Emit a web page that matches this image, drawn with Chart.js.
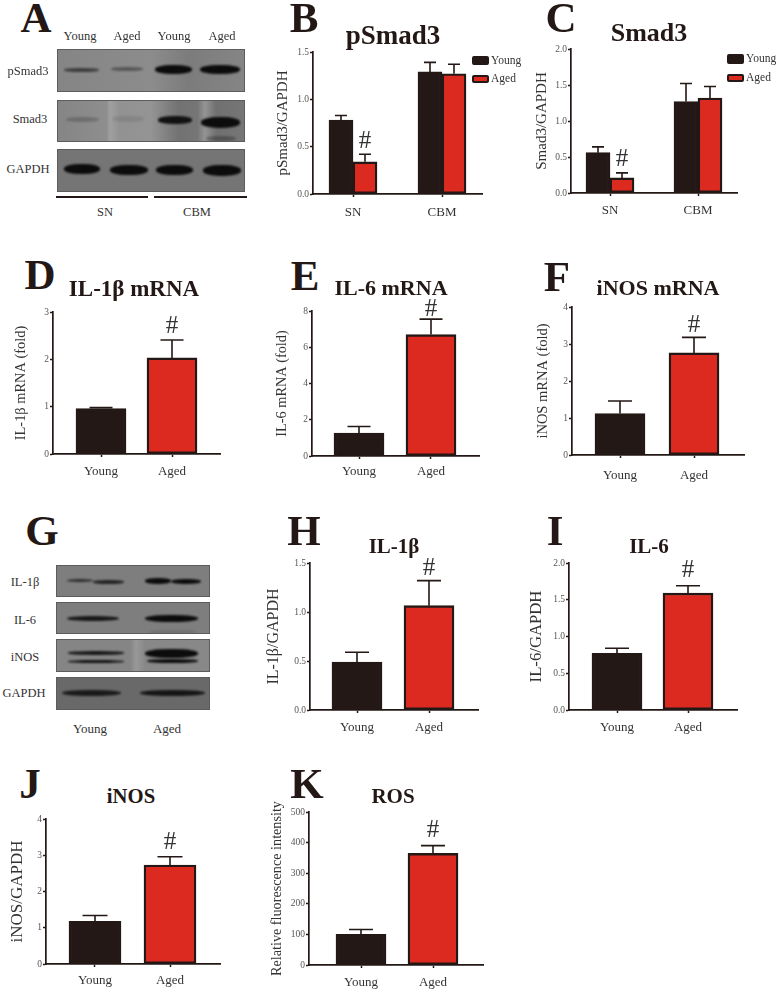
<!DOCTYPE html>
<html>
<head>
<meta charset="utf-8">
<title>Panels A-K</title>
<script src="https://cdn.jsdelivr.net/npm/chart.js@4"></script>
<style>
    html, body { margin: 0; padding: 0; background: #fff; }
    #page { position: relative; width: 778px; height: 991px; overflow: hidden; font-family: "Liberation Serif", serif; color: #231815; }
    #page canvas { position: absolute; }
    .txt { position: absolute; white-space: nowrap; transform: translate(-50%, -50%); line-height: 1; }
    .row { position: absolute; box-sizing: border-box; border: 1px solid #5c5c5c; overflow: hidden; }
    .band { position: absolute; background: #0c0c0c; border-radius: 45%; filter: blur(1.2px); }
    .rule { position: absolute; height: 2px; background: #231815; }
    .swatch { position: absolute; box-sizing: border-box; border: 2px solid #231815; border-radius: 2px; }
</style>
</head>
<body>
<div id="page"></div>
<script>
// values
var groupLabels = ['SN', 'CBM'];
var pairLabels = ['Young', 'Aged'];

var bYoung = [0.78, 1.29];
var bYoungErr = [0.83, 1.39];
var bAged = [0.34, 1.27];
var bAgedErr = [0.42, 1.37];
var bTicks = ['0.0', '0.5', '1.0', '1.5'];

var cYoung = [0.56, 1.27];
var cYoungErr = [0.64, 1.52];
var cAged = [0.21, 1.32];
var cAgedErr = [0.28, 1.48];
var cTicks = ['0.0', '0.5', '1.0', '1.5', '2.0'];

var dValues = [0.96, 2.03];
var dErr = [0.98, 2.41];
var dTicks = ['0', '1', '2', '3'];

var eValues = [1.27, 6.7];
var eErr = [1.63, 7.55];
var eTicks = ['0', '2', '4', '6', '8'];

var fValues = [1.12, 2.76];
var fErr = [1.46, 3.18];
var fTicks = ['0', '1', '2', '3', '4'];

var hValues = [0.49, 1.065];
var hErr = [0.59, 1.32];
var hTicks = ['0.0', '0.5', '1.0', '1.5'];

var iValues = [0.77, 1.59];
var iErr = [0.84, 1.69];
var iTicks = ['0.0', '0.5', '1.0', '1.5', '2.0'];

var jValues = [1.18, 2.73];
var jErr = [1.34, 2.96];
var jTicks = ['0', '1', '2', '3', '4'];

var kValues = [100, 365];
var kErr = [116, 390];
var kTicks = ['0', '100', '200', '300', '400', '500'];

var DARK = '#231815';
var RED = '#dc2a20';
var SERIF = '"Liberation Serif", serif';
var page = document.getElementById('page');

function addText(text, x, y, size, bold, color) {
    var el = document.createElement('div');
    el.className = 'txt';
    el.textContent = text;
    el.style.left = x + 'px';
    el.style.top = y + 'px';
    el.style.fontSize = size + 'px';
    if (bold) el.style.fontWeight = 'bold';
    if (color) el.style.color = color;
    page.appendChild(el);
}

// error caps and the # mark, placed through the chart scales
var errorBarPlugin = {
    id: 'errorBars',
    afterDatasetsDraw: function(chart, args, opts) {
        var ctx = chart.ctx;
        var yScale = chart.scales.y;
        ctx.save();
        ctx.strokeStyle = DARK;
        ctx.lineWidth = 1.6;
        opts.tops.forEach(function(tops, d) {
            var bars = chart.getDatasetMeta(d).data;
            tops.forEach(function(top, i) {
                var x = bars[i].x;
                var yTop = yScale.getPixelForValue(top);
                ctx.beginPath();
                ctx.moveTo(x, bars[i].y);
                ctx.lineTo(x, yTop);
                ctx.moveTo(x - opts.capW / 2, yTop);
                ctx.lineTo(x + opts.capW / 2, yTop);
                ctx.stroke();
            });
        });
        var bar = chart.getDatasetMeta(opts.hash[0]).data[opts.hash[1]];
        ctx.fillStyle = '#333';
        ctx.font = '25px ' + SERIF;
        ctx.textAlign = 'center';
        ctx.textBaseline = 'middle';
        ctx.fillText('#', bar.x, yScale.getPixelForValue(opts.tops[opts.hash[0]][opts.hash[1]]) - opts.hashDy);
        ctx.restore();
    }
};

function barPanel(p) {
    var padTop = 12, padRight = 6, xHeight = 34;
    var yWidth = p.axisX - p.titleX + 10;
    var canvas = document.createElement('canvas');
    canvas.width = yWidth + (p.right - p.axisX) + padRight;
    canvas.height = padTop + (p.y0 - p.yTop) + xHeight;
    canvas.style.left = (p.titleX - 10) + 'px';
    canvas.style.top = (p.yTop - padTop) + 'px';
    page.appendChild(canvas);

    var spacing = p.tick2 - p.tick1;
    var yValues = p.yTicks.map(parseFloat);

    new Chart(canvas.getContext('2d'), {
        type: 'bar',
        data: {
            datasets: p.series.map(function(s) {
                return {
                    label: s.label,
                    data: s.values.map(function(v, i) { return { x: i, y: v }; }),
                    backgroundColor: s.colors,
                    borderColor: DARK,
                    borderWidth: 2.4,
                    borderSkipped: false,
                    barThickness: p.barW
                };
            })
        },
        options: {
            responsive: false,
            animation: false,
            layout: { padding: { top: padTop, right: padRight, left: 0, bottom: 0 } },
            plugins: {
                legend: { display: false },
                title: { display: false },
                tooltip: { enabled: false },
                errorBars: {
                    tops: p.series.map(function(s) { return s.err; }),
                    capW: p.capW,
                    hash: p.hash,
                    hashDy: p.hashDy
                }
            },
            scales: {
                x: {
                    type: 'linear',
                    bounds: 'data',
                    offset: false,
                    z: 1,
                    min: (p.axisX - p.tick1) / spacing,
                    max: (p.right - p.tick1) / spacing,
                    afterBuildTicks: function(scale) {
                        scale.ticks = p.labels.map(function(l, i) { return { value: i }; });
                    },
                    afterFit: function(scale) { scale.height = xHeight; },
                    border: { color: DARK, width: 1.7 },
                    grid: { offset: false, drawOnChartArea: false, tickLength: 3, tickColor: DARK, tickWidth: 1.5 },
                    ticks: {
                        autoSkip: false,
                        maxRotation: 0,
                        padding: p.xGap,
                        color: '#333',
                        font: { family: SERIF, size: p.xSize || 13 },
                        callback: function(v) { return p.labels[v]; }
                    }
                },
                y: {
                    type: 'linear',
                    bounds: 'data',
                    z: 1,
                    min: 0,
                    max: yValues[yValues.length - 1],
                    afterBuildTicks: function(scale) {
                        scale.ticks = yValues.map(function(v) { return { value: v }; });
                    },
                    afterFit: function(scale) { scale.width = yWidth; },
                    border: { color: DARK, width: 1.7 },
                    grid: { drawOnChartArea: false, tickLength: 3, tickColor: DARK, tickWidth: 1.3 },
                    ticks: {
                        padding: 1,
                        color: '#555',
                        font: { family: SERIF, size: 9.5 },
                        callback: function(v) { return p.yTicks[yValues.indexOf(v)]; }
                    },
                    title: {
                        display: true,
                        text: p.yTitle,
                        color: '#333',
                        padding: 0,
                        font: { family: SERIF, size: p.yTitleSize, lineHeight: '20px' }
                    }
                }
            }
        },
        plugins: [errorBarPlugin]
    });
}

function pair(values, err) {
    return [{ label: 'Mean', values: values, err: err, colors: [DARK, RED] }];
}

function group(young, youngErr, aged, agedErr) {
    return [
        { label: 'Young', values: young, err: youngErr, colors: DARK },
        { label: 'Aged', values: aged, err: agedErr, colors: RED }
    ];
}

barPanel({ axisX: 313, y0: 194, yTop: 52, right: 482, tick1: 353, tick2: 442, barW: 24, capW: 12, titleX: 283, xGap: 8, hashDy: 13,
    yTitle: 'pSmad3/GAPDH', yTitleSize: 15, yTicks: bTicks, labels: groupLabels, hash: [1, 0], series: group(bYoung, bYoungErr, bAged, bAgedErr) });
barPanel({ axisX: 571, y0: 193, yTop: 49, right: 737, tick1: 610, tick2: 698, barW: 24, capW: 12, titleX: 542, xGap: 7, hashDy: 13,
    yTitle: 'Smad3/GAPDH', yTitleSize: 15, yTicks: cTicks, labels: groupLabels, hash: [1, 0], series: group(cYoung, cYoungErr, cAged, cAgedErr) });
barPanel({ axisX: 53, y0: 454, yTop: 312, right: 220, tick1: 101, tick2: 172, barW: 50, capW: 23, titleX: 21, xGap: 7, hashDy: 13,
    yTitle: 'IL-1\u03b2 mRNA (fold)', yTitleSize: 14.4, yTicks: dTicks, labels: pairLabels, hash: [0, 1], series: pair(dValues, dErr) });
barPanel({ axisX: 312, y0: 456, yTop: 311, right: 479, tick1: 359, tick2: 431, barW: 50, capW: 23, titleX: 282, xGap: 5, hashDy: 10,
    yTitle: 'IL-6 mRNA (fold)', yTitleSize: 14.3, yTicks: eTicks, labels: pairLabels, hash: [0, 1], series: pair(eValues, eErr) });
barPanel({ axisX: 572, y0: 455, yTop: 307, right: 744, tick1: 620, tick2: 694, barW: 50, capW: 24, titleX: 543, xGap: 10, hashDy: 12,
    yTitle: 'iNOS mRNA (fold)', yTitleSize: 14.5, yTicks: fTicks, labels: pairLabels, hash: [0, 1], series: pair(fValues, fErr) });
barPanel({ axisX: 310, y0: 710, yTop: 563, right: 478, tick1: 357, tick2: 429, barW: 50, capW: 24, titleX: 274, xGap: 7, hashDy: 12,
    yTitle: 'IL-1\u03b2/GAPDH', yTitleSize: 16, yTicks: hTicks, labels: pairLabels, hash: [0, 1], series: pair(hValues, hErr) });
barPanel({ axisX: 569, y0: 710, yTop: 563, right: 737, tick1: 617, tick2: 688, barW: 50, capW: 24, titleX: 537, xGap: 7, hashDy: 15,
    yTitle: 'IL-6/GAPDH', yTitleSize: 16.7, yTicks: iTicks, labels: pairLabels, hash: [0, 1], series: pair(iValues, iErr) });
barPanel({ axisX: 46, y0: 964, yTop: 819, right: 220, tick1: 95, tick2: 170, barW: 52, capW: 25, titleX: 18, xGap: 6, hashDy: 14,
    yTitle: 'iNOS/GAPDH', yTitleSize: 17, yTicks: jTicks, labels: pairLabels, hash: [0, 1], series: pair(jValues, jErr) });
barPanel({ axisX: 309, y0: 965, yTop: 812, right: 483, tick1: 361, tick2: 433, barW: 50, capW: 24, titleX: 277, xGap: 7, hashDy: 15,
    yTitle: 'Relative fluorescence intensity', yTitleSize: 14.2, yTicks: kTicks, labels: pairLabels, hash: [0, 1], series: pair(kValues, kErr) });

// panel letters
[['A', 36, 17], ['B', 304, 17], ['C', 561, 17], ['D', 40, 274], ['E', 305, 275], ['F', 557, 276],
 ['G', 42, 530], ['H', 304, 530], ['I', 555, 530], ['J', 30, 783], ['K', 307, 783]].forEach(function(l) {
    addText(l[0], l[1], l[2], 43, true);
});

// panel titles
[['pSmad3', 393, 35, 27], ['Smad3', 649, 33, 26], ['IL-1\u03b2 mRNA', 134, 288, 23], ['IL-6 mRNA', 391, 288, 22],
 ['iNOS mRNA', 658, 288, 22], ['IL-1\u03b2', 394, 546, 21], ['IL-6', 649, 546, 21], ['iNOS', 131, 796, 20.7], ['ROS', 393, 796, 21]].forEach(function(t) {
    addText(t[0], t[1], t[2], t[3], true);
});

// legends of B and C
function legendEntry(x, y, h, color, text, textX, textY) {
    var sw = document.createElement('div');
    sw.className = 'swatch';
    sw.style.left = x + 'px';
    sw.style.top = y + 'px';
    sw.style.width = '17px';
    sw.style.height = h + 'px';
    sw.style.background = color;
    page.appendChild(sw);
    var el = document.createElement('div');
    el.className = 'txt';
    el.style.transform = 'translate(0, -50%)';
    el.style.left = textX + 'px';
    el.style.top = textY + 'px';
    el.style.fontSize = '11.5px';
    el.style.color = '#333';
    el.textContent = text;
    page.appendChild(el);
}
legendEntry(472, 56, 9, DARK, 'Young', 491, 61);
legendEntry(472, 75, 8, RED, 'Aged', 491, 79);
legendEntry(727, 54, 10, DARK, 'Young', 746, 59);
legendEntry(727, 74, 8, RED, 'Aged', 746, 78);

// western blot strips, not chart data
function blotRow(x, y, w, h, background, bands) {
    var row = document.createElement('div');
    row.className = 'row';
    row.style.left = x + 'px';
    row.style.top = y + 'px';
    row.style.width = w + 'px';
    row.style.height = h + 'px';
    row.style.background = background;
    bands.forEach(function(b) {
        var el = document.createElement('div');
        el.className = 'band';
        el.style.left = (b[0] - x) + 'px';
        el.style.width = (b[1] - b[0]) + 'px';
        el.style.top = (b[2] - b[3] / 2 - y) + 'px';
        el.style.height = b[3] + 'px';
        el.style.opacity = b[4];
        row.appendChild(el);
    });
    page.appendChild(row);
}

blotRow(57, 49, 188, 43, 'linear-gradient(90deg,#858585,#8c8c8c 50%,#7c7c7c 70%,#858585)', [
    [63, 98, 68.5, 4, 0.6], [110, 142, 67.5, 4, 0.4], [154, 191, 68.5, 9, 1], [199, 239, 68.5, 9, 1]]);
blotRow(57, 100, 188, 42, 'linear-gradient(90deg,#858585,#8e8e8e 26%,#a0a0a0 28%,#929292 33%,#949494 50%,#727272 65%,#767676 75%,#949494 79%,#707070 85%,#767676)', [
    [65, 98, 118, 5, 0.22], [111, 143, 118, 6, 0.1], [157, 191, 119, 8, 0.95], [200, 239, 121, 11, 1], [205, 235, 137, 5, 0.3]]);
blotRow(57, 149, 188, 43, '#757575', [
    [63, 99, 167.5, 10, 1], [109, 147, 168.5, 10, 1], [155, 192, 168.5, 10, 1], [202, 240, 169, 11, 1]]);

[['Young', 80, 36], ['Aged', 127, 36], ['Young', 174, 36], ['Aged', 222, 36],
 ['pSmad3', 28, 71], ['Smad3', 30, 119], ['GAPDH', 28, 169], ['SN', 105, 212], ['CBM', 197, 212]].forEach(function(t) {
    addText(t[0], t[1], t[2], 12.5, false, '#333');
});
[[56, 92], [154, 93]].forEach(function(r) {
    var el = document.createElement('div');
    el.className = 'rule';
    el.style.left = r[0] + 'px';
    el.style.top = '196px';
    el.style.width = r[1] + 'px';
    page.appendChild(el);
});

blotRow(56, 565, 154, 32, '#7e7e7e', [
    [66, 92, 579, 3, 0.7], [92, 123, 580.5, 4, 0.8], [144, 170, 580, 6, 1], [170, 200, 580.5, 5, 1]]);
blotRow(56, 602, 154, 32, '#7e7e7e', [
    [66, 118, 617.5, 5, 0.9], [144, 197, 617.5, 7, 1], [148, 195, 631, 4, 0.12]]);
blotRow(56, 639, 154, 33, 'linear-gradient(90deg,#858585,#858585 48%,#989898 52%,#888888 58%)', [
    [67, 123, 652, 4, 0.9], [67, 123, 660, 3, 0.95], [144, 197, 652, 9, 1], [146, 197, 660, 4, 1]]);
blotRow(56, 677, 154, 33, '#696969', [
    [61, 120, 692, 6, 0.85], [139, 204, 692, 6, 0.9]]);

[['IL-1\u03b2', 25, 582], ['IL-6', 25, 620], ['iNOS', 25, 657], ['GAPDH', 24, 693]].forEach(function(t) {
    addText(t[0], t[1], t[2], 12.5, false, '#333');
});
addText('Young', 90, 728, 13, false, '#333');
addText('Aged', 167, 728, 13, false, '#333');
</script>
</body>
</html>
